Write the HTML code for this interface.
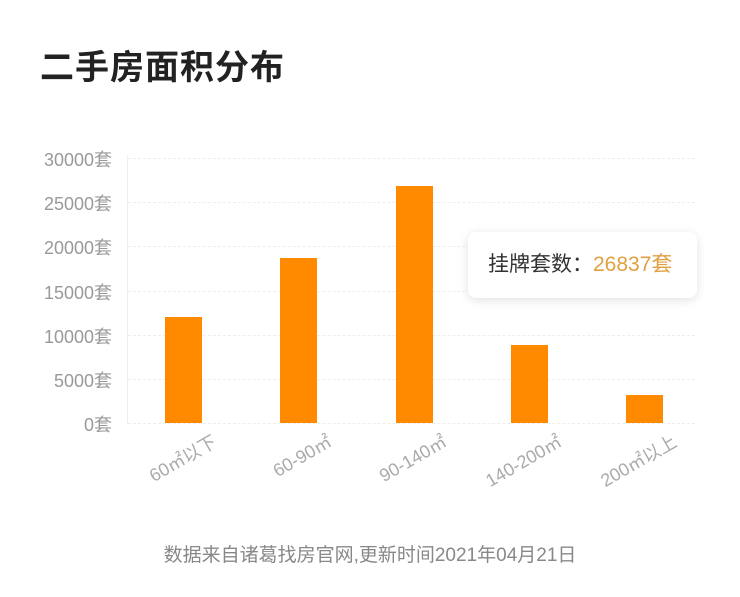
<!DOCTYPE html><html><head><meta charset="utf-8"><style>
body{margin:0;width:740px;height:597px;background:#fff;font-family:"Liberation Sans","Noto Sans CJK SC",sans-serif;overflow:hidden;position:relative}
.t{position:absolute;left:40px;top:40px;font-size:34px;font-weight:bold;color:#222;letter-spacing:1px}
.y{position:absolute;right:628px;font-size:18px;color:#999;text-align:right}
.g{position:absolute;left:128px;width:567px;border-top:1px dashed #eee}
.b{position:absolute;width:37px;background:#ff8a00}
.x{position:absolute;font-size:18px;color:#aaa;transform-origin:right top;transform:rotate(-30deg);white-space:nowrap;text-align:right}
.tip{position:absolute;left:468px;top:232px;width:229px;height:66px;border-radius:8px;background:#fff;box-shadow:0 2px 10px rgba(0,0,0,.12);font-size:21px;color:#333;line-height:66px;text-indent:20px;white-space:nowrap}
.f{position:absolute;left:0;width:740px;top:540px;text-align:center;font-size:19px;color:#888}
</style></head><body>
<div class="t">二手房面积分布</div>
<div style="position:absolute;left:127px;top:155px;height:269px;border-left:1px solid #eee"></div>
<div class="g" style="top:158px"></div><div class="g" style="top:202px"></div><div class="g" style="top:246px"></div><div class="g" style="top:291px"></div><div class="g" style="top:335px"></div><div class="g" style="top:379px"></div><div class="g" style="top:423px"></div>
<div class="y" style="top:146px">30000套</div><div class="y" style="top:190px">25000套</div><div class="y" style="top:234px">20000套</div><div class="y" style="top:279px">15000套</div><div class="y" style="top:323px">10000套</div><div class="y" style="top:367px">5000套</div><div class="y" style="top:411px">0套</div>
<div class="b" style="left:165px;top:317px;height:106px"></div>
<div class="b" style="left:280px;top:258px;height:165px"></div>
<div class="b" style="left:396px;top:186px;height:237px"></div>
<div class="b" style="left:511px;top:345px;height:78px"></div>
<div class="b" style="left:626px;top:395px;height:28px"></div>
<div class="x" style="right:532px;top:428px">60㎡以下</div>
<div class="x" style="right:417px;top:428px">60-90㎡</div>
<div class="x" style="right:302px;top:428px">90-140㎡</div>
<div class="x" style="right:187px;top:428px">140-200㎡</div>
<div class="x" style="right:72px;top:428px">200㎡以上</div>
<div class="tip">挂牌套数：<span style="color:#e0a040">26837套</span></div>
<div class="f">数据来自诸葛找房官网,更新时间2021年04月21日</div>
</body></html>
